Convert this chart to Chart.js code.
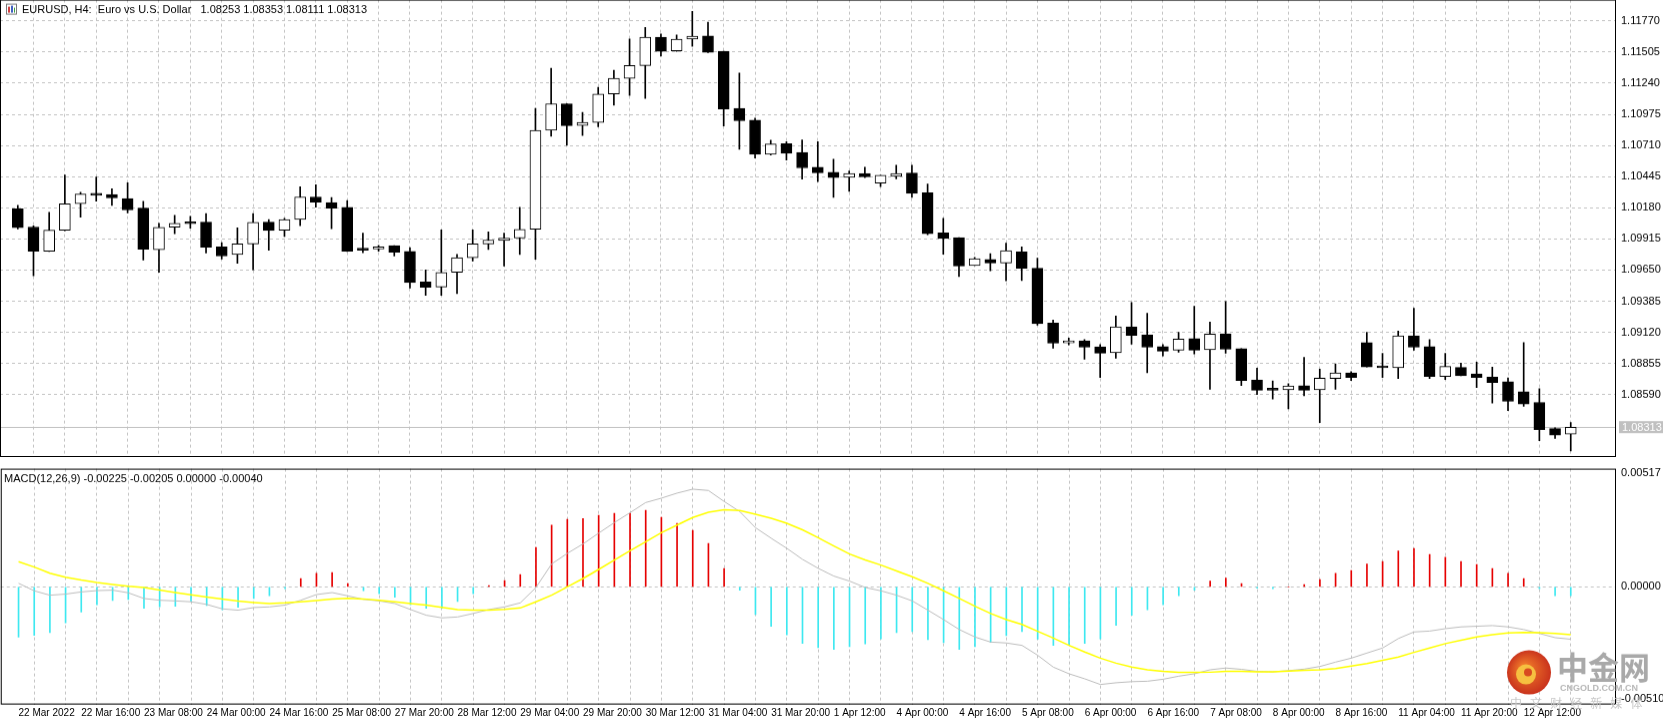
<!DOCTYPE html>
<html><head><meta charset="utf-8">
<script src="https://cdn.jsdelivr.net/npm/chart.js@4.4.1/dist/chart.umd.min.js"></script>
<style>
html,body{margin:0;padding:0;background:#fff;width:1663px;height:721px;overflow:hidden;position:relative}
#top{position:absolute;left:0;top:0;width:1663px;height:468px}
#bot{position:absolute;left:0;top:469px;width:1663px;height:252px}
</style></head><body>
<div id="bot"><canvas id="c2"></canvas></div>
<div id="top"><canvas id="c1"></canvas></div>
<script>
const timeLabels = ["22 Mar 2022","22 Mar 16:00","23 Mar 08:00","24 Mar 00:00","24 Mar 16:00","25 Mar 08:00","27 Mar 20:00","28 Mar 12:00","29 Mar 04:00","29 Mar 20:00","30 Mar 12:00","31 Mar 04:00","31 Mar 20:00","1 Apr 12:00","4 Apr 00:00","4 Apr 16:00","5 Apr 08:00","6 Apr 00:00","6 Apr 16:00","7 Apr 08:00","8 Apr 00:00","8 Apr 16:00","11 Apr 04:00","11 Apr 20:00","12 Apr 12:00"];
const priceTicks = [1.11770,1.11505,1.11240,1.10975,1.10710,1.10445,1.10180,1.09915,1.09650,1.09385,1.09120,1.08855,1.08590];
const macdTicks = [0.00517,0.00000,-0.00510];
const opens = [1.10172,1.10016,1.09810,1.09989,1.10214,1.10297,1.10292,1.10258,1.10177,1.09822,1.10014,1.10056,1.10058,1.09847,1.09783,1.09872,1.10058,1.09989,1.10080,1.10272,1.10225,1.10183,1.09830,1.09830,1.09858,1.09808,1.09549,1.09505,1.09630,1.09755,1.09872,1.09902,1.09922,1.09997,1.10839,1.11065,1.10881,1.10906,1.11148,1.11281,1.11390,1.11632,1.11515,1.11615,1.11642,1.11512,1.11025,1.10925,1.10636,1.10725,1.10650,1.10525,1.10483,1.10439,1.10472,1.10389,1.10448,1.10475,1.10308,1.09966,1.09925,1.09689,1.09741,1.09710,1.09805,1.09666,1.09199,1.09030,1.09047,1.08997,1.08946,1.09166,1.09099,1.08999,1.08968,1.09066,1.08972,1.09107,1.08982,1.08716,1.08632,1.08630,1.08665,1.08630,1.08727,1.08774,1.09032,1.08830,1.08818,1.09091,1.08999,1.08743,1.08821,1.08766,1.08738,1.08699,1.08615,1.08524,1.08301,1.08253];
const highs = [1.10200,1.10025,1.10142,1.10458,1.10311,1.10442,1.10342,1.10392,1.10236,1.10047,1.10116,1.10108,1.10131,1.09883,1.10008,1.10131,1.10080,1.10091,1.10358,1.10375,1.10267,1.10242,1.09964,1.09860,1.09858,1.09841,1.09650,1.09991,1.09783,1.09991,1.09975,1.09964,1.10183,1.11025,1.11367,1.11065,1.10992,1.11206,1.11351,1.11617,1.11715,1.11659,1.11651,1.11851,1.11759,1.11512,1.11326,1.10942,1.10756,1.10742,1.10758,1.10742,1.10594,1.10492,1.10525,1.10456,1.10542,1.10542,1.10383,1.10089,1.09925,1.09758,1.09789,1.09880,1.09847,1.09750,1.09224,1.09072,1.09058,1.09016,1.09258,1.09374,1.09283,1.09016,1.09121,1.09341,1.09208,1.09383,1.08982,1.08816,1.08707,1.08682,1.08907,1.08807,1.08852,1.08785,1.09121,1.08941,1.09130,1.09324,1.09058,1.08941,1.08857,1.08866,1.08824,1.08732,1.09032,1.08640,1.08307,1.08353];
const lows = [1.10000,1.09602,1.09808,1.09985,1.10100,1.10236,1.10200,1.10136,1.09735,1.09630,1.09960,1.10006,1.09794,1.09744,1.09708,1.09652,1.09819,1.09935,1.10027,1.10186,1.10002,1.09808,1.09797,1.09810,1.09769,1.09497,1.09435,1.09435,1.09449,1.09727,1.09825,1.09685,1.09783,1.09741,1.10789,1.10711,1.10794,1.10869,1.11053,1.11136,1.11111,1.11470,1.11512,1.11553,1.11500,1.10875,1.10678,1.10602,1.10628,1.10586,1.10423,1.10402,1.10269,1.10319,1.10436,1.10361,1.10427,1.10269,1.09950,1.09785,1.09594,1.09689,1.09644,1.09558,1.09560,1.09180,1.08985,1.09013,1.08891,1.08735,1.08899,1.09018,1.08776,1.08918,1.08951,1.08935,1.08635,1.08943,1.08668,1.08590,1.08552,1.08468,1.08580,1.08351,1.08635,1.08710,1.08826,1.08735,1.08726,1.08968,1.08726,1.08718,1.08751,1.08651,1.08518,1.08455,1.08490,1.08198,1.08218,1.08111];
const closes = [1.10011,1.09810,1.09989,1.10214,1.10297,1.10286,1.10264,1.10161,1.09827,1.10014,1.10047,1.10044,1.09844,1.09769,1.09872,1.10056,1.09986,1.10080,1.10272,1.10227,1.10177,1.09810,1.09819,1.09847,1.09802,1.09544,1.09502,1.09630,1.09755,1.09872,1.09905,1.09922,1.09997,1.10839,1.11065,1.10878,1.10906,1.11148,1.11281,1.11390,1.11632,1.11512,1.11615,1.11640,1.11503,1.11020,1.10920,1.10636,1.10723,1.10644,1.10519,1.10478,1.10436,1.10472,1.10444,1.10456,1.10472,1.10302,1.09960,1.09919,1.09685,1.09747,1.09710,1.09814,1.09664,1.09193,1.09027,1.09047,1.08993,1.08943,1.09166,1.09093,1.08993,1.08960,1.09063,1.08968,1.09105,1.08976,1.08710,1.08627,1.08627,1.08663,1.08627,1.08730,1.08774,1.08735,1.08826,1.08818,1.09091,1.08993,1.08743,1.08830,1.08751,1.08735,1.08693,1.08532,1.08510,1.08293,1.08246,1.08313];
// MACD values in units of 0.00001
const macdMain = [16,-18,-38,-33,-23,-17,-15,-27,-53,-61,-64,-68,-80,-100,-106,-94,-91,-83,-61,-35,-26,-41,-57,-64,-76,-103,-129,-141,-137,-121,-103,-91,-73,-3,104,152,195,244,292,337,383,403,426,444,438,388,342,269,221,175,125,84,49,26,-3,-18,-38,-64,-106,-149,-194,-228,-251,-255,-266,-311,-365,-395,-418,-444,-436,-431,-429,-420,-406,-395,-377,-369,-375,-384,-386,-381,-374,-362,-342,-324,-301,-278,-235,-205,-201,-190,-182,-179,-176,-182,-194,-212,-231,-238];
const macdSignal = [114,90,62,44,31,20,11,3,-3,-15,-26,-36,-46,-56,-65,-71,-76,-73,-68,-62,-56,-52,-55,-61,-68,-76,-83,-93,-103,-106,-106,-102,-96,-68,-38,0,38,79,122,164,205,246,281,315,339,350,347,330,312,289,259,223,186,149,122,99,72,46,16,-18,-53,-88,-121,-149,-171,-202,-233,-266,-296,-324,-347,-365,-377,-384,-389,-389,-388,-384,-384,-386,-386,-383,-380,-377,-371,-360,-349,-334,-319,-298,-278,-258,-243,-228,-217,-210,-207,-208,-212,-217];
const macdHist = [-228,-220,-208,-163,-115,-81,-62,-58,-97,-91,-88,-65,-85,-104,-93,-53,-40,-8,38,61,65,15,-18,-31,-47,-81,-97,-97,-67,-31,6,29,56,179,280,307,310,325,334,334,348,316,289,257,197,83,-15,-126,-179,-218,-257,-277,-284,-272,-259,-236,-208,-204,-240,-254,-284,-272,-252,-222,-204,-238,-266,-263,-257,-236,-175,-129,-104,-81,-40,-15,26,40,15,-6,-9,0,10,33,61,74,104,115,163,175,147,134,115,102,83,61,38,-9,-40,-40];

const N = opens.length;
const FONT = '"Liberation Sans", Arial, sans-serif';
const xMin = -0.125, xMax = 100.875;
const wicks = [], bodies = [], bodyFill = [];
for (let i=0;i<N;i++){
  wicks.push({x:i, y:[lows[i], highs[i]]});
  bodies.push({x:i, y:[Math.min(opens[i],closes[i]), Math.max(opens[i],closes[i])]});
  bodyFill.push(closes[i] >= opens[i] ? '#ffffff' : '#000000');
}
const gridX = {
  color: (ctx)=> (ctx.tick && ctx.tick.value>0.5 && ctx.tick.value<100.5) ? '#c4c4c4' : 'rgba(0,0,0,0)',
  drawTicks:false, lineWidth:1
};
function xTicks(scale){ const t=[]; for(let i=0;i<=100;i+=2) t.push({value:i}); scale.ticks=t; }
const frame = {id:'frame', afterDraw(ch){
  const a=ch.chartArea, c=ch.ctx; c.save(); c.strokeStyle='#000'; c.lineWidth=1;
  c.strokeRect(a.left+0.5,a.top+0.5,a.right-a.left-1,a.bottom-a.top-1); c.restore();
}};
const topDeco = {id:'topDeco', beforeDatasetsDraw(ch){
  const c=ch.ctx, a=ch.chartArea, y=Math.round(ch.scales.y.getPixelForValue(closes[N-1]))+0.5;
  c.save(); c.strokeStyle='#c0c0c0'; c.lineWidth=1; c.beginPath(); c.moveTo(a.left,y); c.lineTo(a.right,y); c.stroke(); c.restore();
}, afterDraw(ch){
  const c=ch.ctx, a=ch.chartArea, y=ch.scales.y.getPixelForValue(closes[N-1]);
  c.save();
  c.fillStyle='#c0c0c0'; c.fillRect(a.right+3,y-6,44,12);
  c.fillStyle='#fff'; c.font='11px '+FONT; c.textBaseline='middle'; c.fillText(closes[N-1].toFixed(5), a.right+6, y+0.5);
  const t=a.top;
  c.strokeStyle='#7a7a7a'; c.fillStyle='#fff'; c.strokeRect(6.5,t+4.5,10,10);
  c.fillStyle='#d04040'; c.fillRect(8,t+7,2,6); c.fillStyle='#4060c0'; c.fillRect(11,t+6,2,7); c.fillStyle='#40a040'; c.fillRect(14,t+8,1,5);
  c.fillStyle='#000'; c.font='11px '+FONT; c.textBaseline='middle';
  c.fillText('EURUSD, H4:  Euro vs U.S. Dollar   1.08253 1.08353 1.08111 1.08313', 22, t+10);
  c.restore();
}};
const ch1 = new Chart(document.getElementById('c1'), {
  type:'bar',
  data:{datasets:[
    {data:wicks, backgroundColor:'#000', barThickness:1, order:2, grouped:false},
    {data:bodies, backgroundColor:bodyFill, borderColor:'#000', borderWidth:1, borderSkipped:false, barThickness:11, minBarLength:2, order:1, grouped:false}
  ]},
  options:{
    responsive:true, maintainAspectRatio:false, animation:false, devicePixelRatio:1,
    layout:{padding:0},
    plugins:{legend:{display:false}, tooltip:{enabled:false}},
    scales:{
      x:{type:'linear', min:xMin, max:xMax, afterBuildTicks:xTicks, ticks:{display:false},
         grid:gridX, border:{display:false, dash:[3,3]}, afterFit:(s)=>{s.height=0;}},
      y:{position:'right', min:1.08059, max:1.11951, afterBuildTicks:(s)=>{s.ticks=priceTicks.map(v=>({value:v}));},
         ticks:{callback:(v)=>Number(v).toFixed(5), font:{family:'Liberation Sans',size:11}, color:'#000', padding:5},
         grid:{color:'#c4c4c4', drawTicks:false}, border:{display:false, dash:[3,3]},
         afterFit:(s)=>{s.width=47;}}
    }
  },
  plugins:[frame, topDeco]
});
const histData = macdHist.map((v,i)=>({x:i, y:[0, v*1e-5]}));
const botDeco = {id:'botDeco', afterDraw(ch){
  const c=ch.ctx, t=ch.chartArea.top; c.save(); c.fillStyle='#000'; c.font='11px '+FONT; c.textBaseline='middle';
  c.fillText('MACD(12,26,9) -0.00225 -0.00205 0.00000 -0.00040', 4, t+10);
  const cx=1529, cy=t+203;
  const g=c.createRadialGradient(cx-5,cy-5,3,cx,cy,23); g.addColorStop(0,'#f07a2a'); g.addColorStop(1,'#c8301c');
  c.fillStyle=g; c.beginPath(); c.arc(cx,cy,22,0,Math.PI*2); c.fill();
  c.fillStyle='#f6c040'; c.beginPath(); c.arc(cx-3,cy+2,10,0,Math.PI*2); c.fill();
  c.fillStyle='#d84a20'; c.beginPath(); c.arc(cx-1,cy,4,0,Math.PI*2); c.fill();
  c.fillStyle='#a9a9a9'; c.font='bold 31px "Noto Sans CJK SC"'; c.fillText('中金网', 1557, t+198);
  c.font='bold 9px '+FONT; c.fillStyle='#b8b8b8'; c.fillText('CNGOLD.COM.CN', 1560, t+219);
  c.font='12px "Noto Sans CJK SC"'; c.fillStyle='#c8c8c8'; c.fillText('中   文   财   经   新   媒   体', 1510, t+234);
  c.restore();
}};
const ch2 = new Chart(document.getElementById('c2'), {
  data:{datasets:[
    {type:'bar', data:histData, backgroundColor:macdHist.map(v=>v>=0?'#e60000':'#3ee8f0'), barThickness:1, grouped:false, order:3},
    {type:'line', data:macdMain.map((v,i)=>({x:i,y:v*1e-5})), borderColor:'#bdbdbd', borderWidth:1, pointRadius:0, tension:0, order:2},
    {type:'line', data:macdSignal.map((v,i)=>({x:i,y:v*1e-5})), borderColor:'#ffff00', borderWidth:1.5, pointRadius:0, tension:0, order:1}
  ]},
  options:{
    responsive:true, maintainAspectRatio:false, animation:false, devicePixelRatio:1,
    layout:{padding:0},
    plugins:{legend:{display:false}, tooltip:{enabled:false}},
    scales:{
      x:{type:'linear', min:xMin, max:xMax, afterBuildTicks:xTicks,
         ticks:{font:{family:'Liberation Sans',size:10}, color:'#000', align:'start', maxRotation:0, autoSkip:false, padding:3,
           callback:(v)=> (v%4===0 && v/4<timeLabels.length) ? timeLabels[v/4] : ''},
         grid:gridX, border:{display:false, dash:[3,3]}, afterFit:(s)=>{s.height=17;}},
      y:{position:'right', min:-0.00535, max:0.00537, afterBuildTicks:(s)=>{s.ticks=macdTicks.map(v=>({value:v}));},
         ticks:{callback:(v)=>Number(v).toFixed(5), font:{family:'Liberation Sans',size:11}, color:'#000', padding:5},
         grid:{color:(ctx)=> (ctx.tick && ctx.tick.value===0) ? '#c4c4c4' : 'rgba(0,0,0,0)', drawTicks:false},
         border:{display:false, dash:[3,3]}, afterFit:(s)=>{s.width=47;}}
    }
  },
  plugins:[frame, botDeco]
});
function fixTop(chart, div, baseTop, baseH){
  const t = chart.chartArea.top;
  if (t > 0){ div.style.top = (baseTop - t) + 'px'; div.style.height = (baseH + t) + 'px'; chart.resize(); }
}
fixTop(ch1, document.getElementById('top'), 0, 468);
fixTop(ch2, document.getElementById('bot'), 469, 252);
</script></body></html>
